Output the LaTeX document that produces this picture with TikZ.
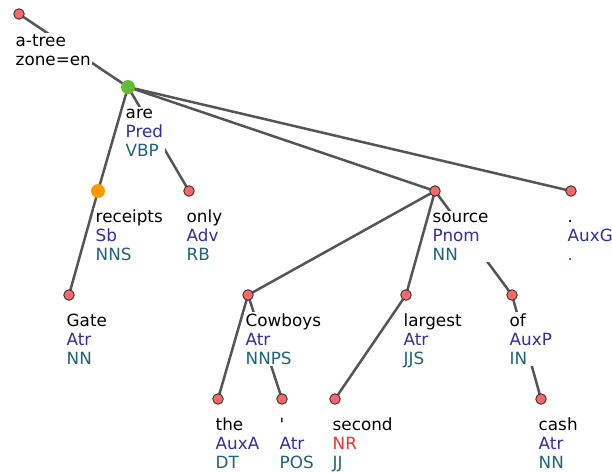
\documentclass[tikz,border=0pt]{standalone}
\usepackage{fontspec}
\setmainfont{DejaVu Sans}
\usetikzlibrary{calc}
\definecolor{afunc}{HTML}{2F2FA0}
\definecolor{tagc}{HTML}{1E6477}
\definecolor{nrred}{HTML}{FF2A2A}
\definecolor{nodered}{HTML}{FF6666}
\definecolor{nodegreen}{HTML}{66BB33}
\definecolor{nodeorange}{HTML}{FF9900}
\definecolor{edgec}{HTML}{555555}
\tikzset{
  tnode/.style={circle, fill=nodered, draw=black!80, line width=0.9pt, minimum size=10.5pt, inner sep=0pt},
  gnode/.style={circle, fill=nodegreen, minimum size=14pt, inner sep=0pt},
  onode/.style={circle, fill=nodeorange, minimum size=14pt, inner sep=0pt},
  lab/.style={anchor=base west, align=left, fill=white, inner sep=1.5pt,
    font=\fontsize{16.8}{19}\selectfont},
  edge/.style={draw=edgec, line width=2.5pt}
}
\begin{document}
\begin{tikzpicture}[x=1pt,y=-1pt]
\useasboundingbox (0,0) rectangle (612,472);
% node positions
\coordinate (root) at (19,14);
\coordinate (are) at (128,87);
\coordinate (receipts) at (98,191);
\coordinate (only) at (189,191);
\coordinate (source) at (435,191);
\coordinate (period) at (571,191);
\coordinate (gate) at (69,295);
\coordinate (cowboys) at (248,295);
\coordinate (largest) at (406,295);
\coordinate (of) at (512,295);
\coordinate (the) at (218,399);
\coordinate (apos) at (282,399);
\coordinate (second) at (335,399);
\coordinate (cash) at (541,399);
% edges
\draw[edge] (root) -- (are);
\draw[edge] (are) -- (receipts);
\draw[edge] (are) -- (only);
\draw[edge] (are) -- (source);
\draw[edge] (are) -- (period);
\draw[edge] (receipts) -- (gate);
\draw[edge] (source) -- (cowboys);
\draw[edge] (source) -- (largest);
\draw[edge] (source) -- (of);
\draw[edge] (cowboys) -- (the);
\draw[edge] (cowboys) -- (apos);
\draw[edge] (largest) -- (second);
\draw[edge] (of) -- (cash);
% labels (base anchor = baseline of last line)
\node[lab] (l-root) at ($(root)+(-5,51)$) {a-tree\\zone=en};
\node[lab] (l-are) at ($(are)+(-4,69)$) {are\\\textcolor{afunc}{Pred}\\\textcolor{tagc}{VBP}};
\node[lab] (l-receipts) at ($(receipts)+(-4,69)$) {receipts\\\textcolor{afunc}{Sb}\\\textcolor{tagc}{NNS}};
\node[lab] (l-only) at ($(only)+(-4,69)$) {only\\\textcolor{afunc}{Adv}\\\textcolor{tagc}{RB}};
\node[lab] (l-source) at ($(source)+(-4,69)$) {source\\\textcolor{afunc}{Pnom}\\\textcolor{tagc}{NN}};
\node[lab] (l-period) at ($(period)+(-5,69)$) {.\\\textcolor{afunc}{AuxG}\\\textcolor{tagc}{.}};
\node[lab] (l-gate) at ($(gate)+(-4,69)$) {Gate\\\textcolor{afunc}{Atr}\\\textcolor{tagc}{NN}};
\node[lab] (l-cowboys) at ($(cowboys)+(-4,69)$) {Cowboys\\\textcolor{afunc}{Atr}\\\textcolor{tagc}{NNPS}};
\node[lab] (l-largest) at ($(largest)+(-4,69)$) {largest\\\textcolor{afunc}{Atr}\\\textcolor{tagc}{JJS}};
\node[lab] (l-of) at ($(of)+(-4,69)$) {of\\\textcolor{afunc}{AuxP}\\\textcolor{tagc}{IN}};
\node[lab] (l-the) at ($(the)+(-4,69)$) {the\\\textcolor{afunc}{AuxA}\\\textcolor{tagc}{DT}};
\node[lab] (l-apos) at ($(apos)+(-4,69)$) {\textquotesingle\\\textcolor{afunc}{Atr}\\\textcolor{tagc}{POS}};
\node[lab] (l-second) at ($(second)+(-4,69)$) {second\\\textcolor{nrred}{NR}\\\textcolor{tagc}{JJ}};
\node[lab] (l-cash) at ($(cash)+(-4,69)$) {cash\\\textcolor{afunc}{Atr}\\\textcolor{tagc}{NN}};
% circles
\node[tnode] (n-root) at (root) {};
\node[gnode] (n-are) at (are) {};
\node[onode] (n-receipts) at (receipts) {};
\node[tnode] (n-only) at (only) {};
\node[tnode] (n-source) at (source) {};
\node[tnode] (n-period) at (period) {};
\node[tnode] (n-gate) at (gate) {};
\node[tnode] (n-cowboys) at (cowboys) {};
\node[tnode] (n-largest) at (largest) {};
\node[tnode] (n-of) at (of) {};
\node[tnode] (n-the) at (the) {};
\node[tnode] (n-apos) at (apos) {};
\node[tnode] (n-second) at (second) {};
\node[tnode] (n-cash) at (cash) {};
\end{tikzpicture}
\end{document}
